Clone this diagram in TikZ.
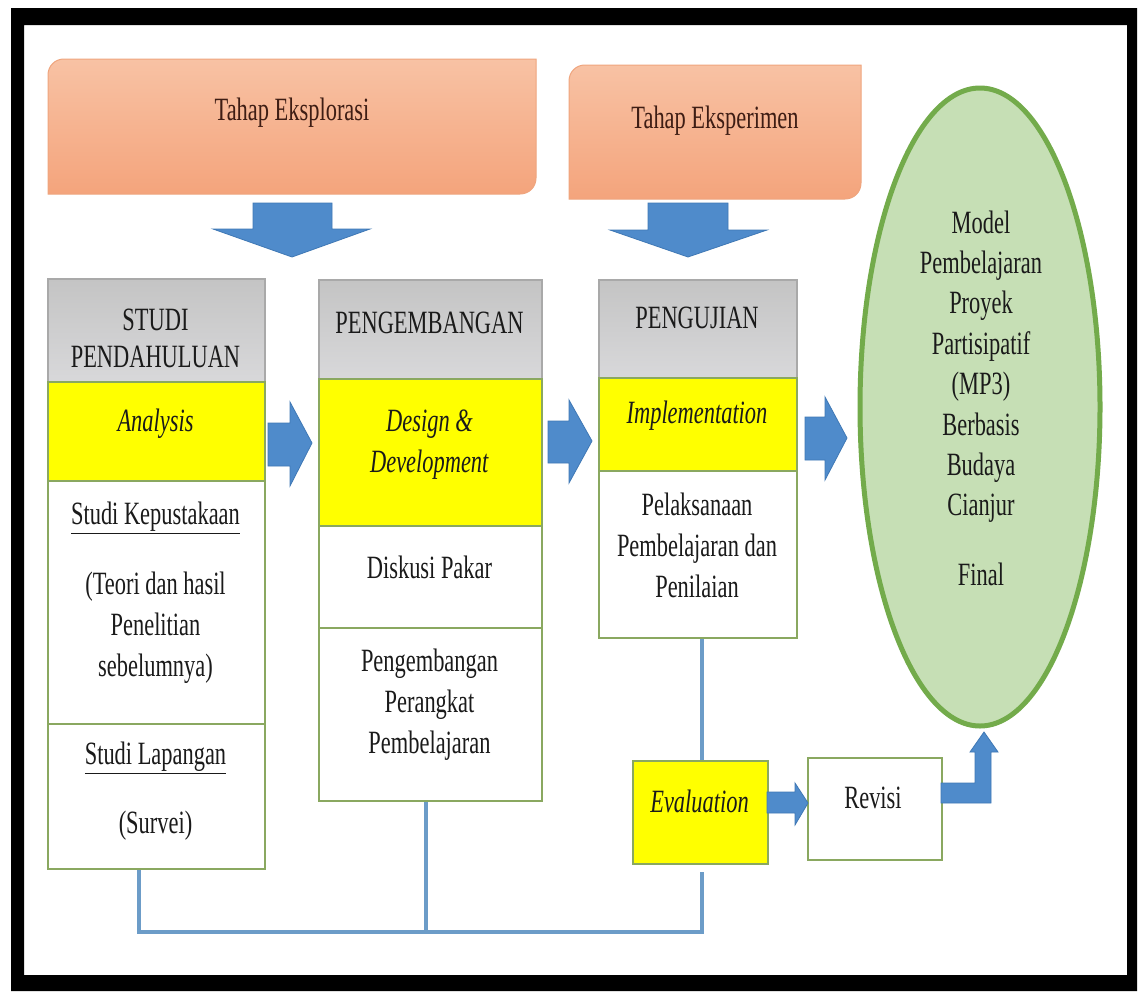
\documentclass[tikz,border=0pt]{standalone}
\usepackage{fontspec}
\setmainfont{Liberation Serif}[FakeStretch=0.69]
\usetikzlibrary{calc,shapes.geometric}
\definecolor{cellgreen}{HTML}{8AA860}
\definecolor{hdrtop}{HTML}{C4C4C4}
\definecolor{hdrbot}{HTML}{D8D8DA}
\definecolor{hdrline}{HTML}{A9A9A9}
\definecolor{ylw}{HTML}{FFFF00}
\definecolor{salTop}{HTML}{F8C2A4}
\definecolor{salBot}{HTML}{F4A47C}
\definecolor{salLine}{HTML}{EFA57E}
\definecolor{arrFill}{HTML}{4F8BCB}
\definecolor{arrLine}{HTML}{3F78B5}
\definecolor{linkBlue}{HTML}{6C9CC8}
\definecolor{ellFill}{HTML}{C6DFB5}
\definecolor{ellLine}{HTML}{73AB4B}
\definecolor{txtDark}{HTML}{1A1A1A}
\definecolor{txtBrown}{HTML}{3E1D14}
\begin{document}
\begin{tikzpicture}[x=1pt,y=-1pt,
  txt/.style={font=\fontsize{32.5}{41}\selectfont, text=txtDark, align=center, inner sep=0pt},
  cell/.style={draw=cellgreen, line width=1.8pt, inner sep=0pt, anchor=north west, fill=white},
  hdr/.style={cell, draw=hdrline, top color=hdrtop, bottom color=hdrbot},
  ycell/.style={cell, fill=ylw},
  barrow/.style={fill=arrFill, draw=arrLine, line width=0.8pt, line join=miter},
  link/.style={draw=linkBlue, line width=4pt, line join=miter},
  tahap/.style={top color=salTop, bottom color=salBot, draw=salLine, line width=1pt},
  holder/.style={inner sep=0pt, anchor=north west}
]
\useasboundingbox (0,0) rectangle (1139,993);
\fill[white] (0,0) rectangle (1139,993);
% outer frame
\fill[black, even odd rule] (11,8) rectangle (1137,991) (24,25) rectangle (1127,975);

% Tahap boxes
\node[holder, minimum width=488pt, minimum height=135pt] (tEx) at (48,59) {};
\path[tahap] (48,194) -- (48,75) .. controls (48,66) and (55,59) .. (64,59) -- (536,59)
  -- (536,178) .. controls (536,187) and (529,194) .. (520,194) -- cycle;
\node[txt, text=txtBrown] (tExT) at (292,113) {Tahap Eksplorasi};

\node[holder, minimum width=292pt, minimum height=134pt] (tEp) at (569,65) {};
\path[tahap] (569,199) -- (569,81) .. controls (569,72) and (576,65) .. (585,65) -- (861,65)
  -- (861,183) .. controls (861,192) and (854,199) .. (845,199) -- cycle;
\node[txt, text=txtBrown] (tEpT) at (715,121) {Tahap Eksperimen};

% down arrows
\path[barrow] (253,203) -- (332,203) -- (332,229) -- (370,229) -- (292,257) -- (213,229) -- (253,229) -- cycle;
\path[barrow] (648,203) -- (728,203) -- (728,230) -- (767,230) -- (688,257) -- (610,230) -- (648,230) -- cycle;

% connector lines
\coordinate (j1) at (139,932);
\coordinate (j2) at (426,932);
\coordinate (j3) at (702,932);

% column 1
\node[hdr, minimum width=217pt, minimum height=103pt] (c1h) at (47,278) {};
\node[ycell, minimum width=217pt, minimum height=99pt] (c1y) at (47,381) {};
\node[cell, minimum width=217pt, minimum height=243pt] (c1a) at (47,480) {};
\node[cell, minimum width=217pt, minimum height=145pt] (c1b) at (47,723) {};
% column 2
\node[hdr, minimum width=223pt, minimum height=99pt] (c2h) at (318,279) {};
\node[ycell, minimum width=223pt, minimum height=147pt] (c2y) at (318,378) {};
\node[cell, minimum width=223pt, minimum height=102pt] (c2a) at (318,525) {};
\node[cell, minimum width=223pt, minimum height=173pt] (c2b) at (318,627) {};
% column 3
\node[hdr, minimum width=198pt, minimum height=98pt] (c3h) at (598,279) {};
\node[ycell, minimum width=198pt, minimum height=93pt] (c3y) at (598,377) {};
\node[cell, minimum width=198pt, minimum height=167pt] (c3a) at (598,470) {};
% evaluation / revisi
\node[ycell, minimum width=135pt, minimum height=103pt] (ev) at (632,760) {};
\node[cell, minimum width=134pt, minimum height=102pt] (rv) at (807,757) {};

\draw[link] (c1b.south -| j1) -- (j1) -- (j3) -- ($(ev.south -| j3)+(0,7)$);
\draw[link] (c2b.south -| j2) -- (j2);
\draw[link] (c3a.south -| j3) -- (ev.north -| j3);

% final ellipse
\node[ellipse, draw=ellLine, fill=ellFill, line width=5pt, inner sep=0pt,
      minimum width=240pt, minimum height=638pt] (fin) at (980,407) {};

% right arrows
\path[barrow] (268,423) -- (290,423) -- (290,402) -- (312,443) -- (290,486) -- (290,466) -- (268,466) -- cycle;
\path[barrow] (548,421) -- (569,421) -- (569,400) -- (592,441) -- (569,483) -- (569,463) -- (548,463) -- cycle;
\path[barrow] (805,417) -- (825,417) -- (825,397) -- (847,438) -- (825,480) -- (825,460) -- (805,460) -- cycle;
\path[barrow] (767,792) -- (795,792) -- (795,783) -- (808,803) -- (795,825) -- (795,813) -- (767,813) -- cycle;
\path[barrow] (941,783) -- (975,783) -- (975,752) -- (970,752) -- (984,732) -- (998,752) -- (991,752) -- (991,803) -- (941,803) -- cycle;

% texts column 1
\node[txt, font=\fontsize{32.5}{37}\selectfont] (t1h) at (155.5,338) {STUDI\\PENDAHULUAN};
\node[txt] (t1y) at (155.5,424) {\textit{Analysis}};
\node[txt] (t1a) at (155.5,518) {\underline{Studi Kepustakaan}};
\node[txt] (t1a2) at (155.5,628) {(Teori dan hasil\\Penelitian\\sebelumnya)};
\node[txt] (t1b) at (155.5,758) {\underline{Studi Lapangan}};
\node[txt] (t1b2) at (155.5,826) {(Survei)};
% texts column 2
\node[txt] (t2h) at (429.5,323) {PENGEMBANGAN};
\node[txt] (t2y) at (429.5,444.5) {\textit{Design \&}\\\textit{Development}};
\node[txt] (t2a) at (429.5,567) {Diskusi Pakar};
\node[txt] (t2b) at (429.5,705) {Pengembangan\\Perangkat\\Pembelajaran};
% texts column 3
\node[txt] (t3h) at (697,318) {PENGUJIAN};
\node[txt] (t3y) at (697,416) {\textit{Implementation}};
\node[txt] (t3a) at (697,545) {Pelaksanaan\\Pembelajaran dan\\Penilaian};
% evaluation / revisi texts
\node[txt] (tev) at (699.5,801) {\textit{Evaluation}};
\node[txt] (trv) at (873,798) {Revisi};
% ellipse text
\node[txt, font=\fontsize{32.5}{40.4}\selectfont] (tfin) at (981,398)
  {Model\\Pembelajaran\\Proyek\\Partisipatif\\(MP3)\\Berbasis\\Budaya\\Cianjur\\[29pt]Final};
\end{tikzpicture}
\end{document}
